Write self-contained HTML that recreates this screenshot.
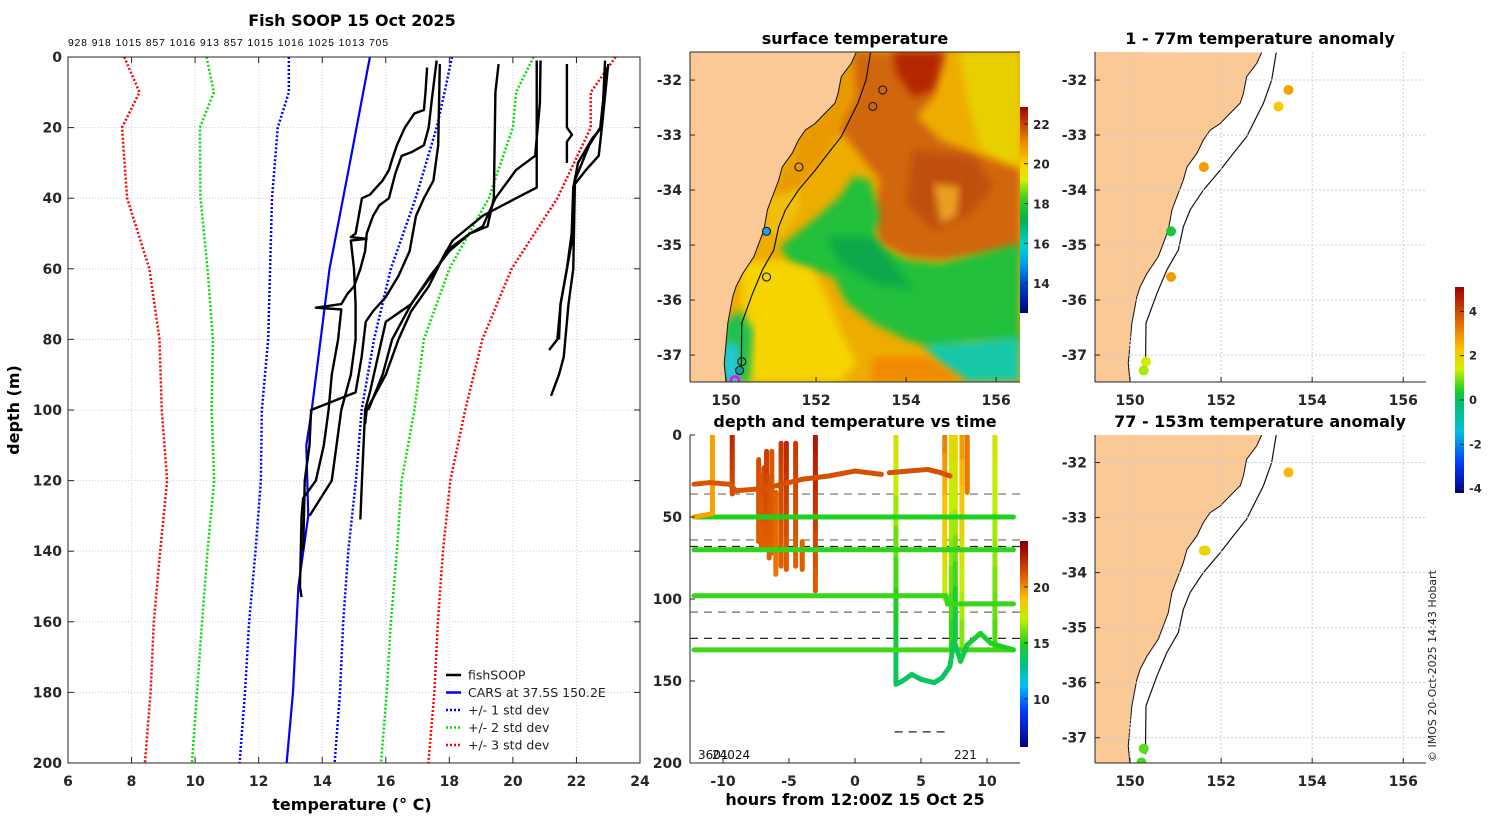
<!DOCTYPE html>
<html><head><meta charset="utf-8">
<style>
html,body{margin:0;padding:0;background:#fff;}
svg{display:block;font-family:"DejaVu Sans","Liberation Sans",sans-serif;}
.tk{font-size:14px;font-weight:bold;fill:#262626;}
.ttl{font-size:16px;font-weight:bold;fill:#000;}
</style></head>
<body>
<svg id="fig" width="1500" height="820" viewBox="0 0 1500 820" xmlns="http://www.w3.org/2000/svg">
<defs>
<linearGradient id="sstbar" x1="0" y1="1" x2="0" y2="0">
<stop offset="0" stop-color="#00007f"/><stop offset="0.14" stop-color="#0040d0"/><stop offset="0.24" stop-color="#00a0f0"/><stop offset="0.33" stop-color="#00d0d0"/><stop offset="0.45" stop-color="#00b050"/><stop offset="0.55" stop-color="#30d020"/><stop offset="0.65" stop-color="#d8f000"/><stop offset="0.72" stop-color="#ffd000"/><stop offset="0.82" stop-color="#f09000"/><stop offset="0.92" stop-color="#c84000"/><stop offset="1" stop-color="#a00000"/>
</linearGradient>
<linearGradient id="tbar" x1="0" y1="1" x2="0" y2="0">
<stop offset="0" stop-color="#00007f"/><stop offset="0.18" stop-color="#0040ff"/><stop offset="0.3" stop-color="#00c0ff"/><stop offset="0.4" stop-color="#00c080"/><stop offset="0.5" stop-color="#20d020"/><stop offset="0.62" stop-color="#c0f000"/><stop offset="0.72" stop-color="#ffc000"/><stop offset="0.83" stop-color="#e06000"/><stop offset="0.94" stop-color="#b01000"/><stop offset="1" stop-color="#800000"/>
</linearGradient>
<linearGradient id="abar" x1="0" y1="1" x2="0" y2="0">
<stop offset="0" stop-color="#00007f"/><stop offset="0.15" stop-color="#0040ff"/><stop offset="0.3" stop-color="#00c0e0"/><stop offset="0.45" stop-color="#00c060"/><stop offset="0.5" stop-color="#20d020"/><stop offset="0.6" stop-color="#d0f000"/><stop offset="0.7" stop-color="#ffc000"/><stop offset="0.82" stop-color="#e07000"/><stop offset="1" stop-color="#a00000"/>
</linearGradient>
<clipPath id="clipMap"><rect x="690" y="52" width="330" height="330"/></clipPath>
<clipPath id="clipA1"><rect x="1095" y="52" width="331" height="330"/></clipPath>
<clipPath id="clipA2"><rect x="1095" y="435" width="331" height="328"/></clipPath>
<clipPath id="clipT"><rect x="690" y="435" width="330" height="328"/></clipPath>
<filter id="soft"><feGaussianBlur stdDeviation="4"/></filter>
</defs>
<g id="root"></g>
</svg>
<script>
// ---------- Profile chart data ----------
const tickT = [6,8,10,12,14,16,18,20,22,24];
const tickD = [0,20,40,60,80,100,120,140,160,180,200];
const carsD = [0,30,60,100,110,130,150,180,200];
const carsT = [15.5,14.87,14.23,13.67,13.5,13.56,13.25,13.08,12.88];
const stdD = [0,10,20,40,60,80,100,120,140,160,180,200];
const p1T = [18.08,17.85,17.6,16.94,16.16,15.63,15.24,15.06,14.82,14.66,14.56,14.39];
const m1T = [12.95,12.95,12.6,12.42,12.36,12.3,12.1,12.07,11.9,11.7,11.57,11.4];
const p2T = [20.65,20.1,20.0,19.24,18.0,17.2,16.9,16.5,16.35,16.16,16.03,15.85];
const m2T = [10.36,10.59,10.15,10.17,10.39,10.56,10.52,10.6,10.39,10.22,10.06,9.9];
const p3T = [23.23,22.45,22.45,21.4,19.96,19.04,18.5,18.03,17.8,17.64,17.53,17.34];
const m3T = [7.77,8.25,7.7,7.86,8.56,8.88,8.95,9.12,8.9,8.7,8.6,8.42];
const fishProfiles = [
 [[17.3,3],[17.25,10],[17.2,15],[16.9,16],[16.75,18],[16.6,20],[16.45,23],[16.35,25],[16.2,29],[16.1,32],[15.9,35],[15.7,37],[15.5,39],[15.25,40],[15.15,45],[15.05,50],[14.9,51],[15.4,51.5],[14.9,52],[14.95,56],[15.0,60],[15.05,70],[15.05,80],[14.9,90],[14.6,100],[14.45,110],[14.3,120],[13.95,125],[13.6,130]],
 [[17.6,1],[17.45,12],[17.35,20],[17.2,25],[16.8,27],[16.5,28],[16.3,33],[16.1,40],[15.8,42],[15.6,45],[15.4,50],[15.35,55],[15.2,60],[15.0,65],[14.8,67],[14.6,70],[13.8,71],[14.6,71.5],[14.5,80],[14.3,90],[14.2,100],[14.05,110],[13.8,120],[13.4,125],[13.35,130],[13.3,150],[13.35,153]],
 [[17.7,2],[17.65,25],[17.5,35],[17.2,40],[16.95,45],[16.75,55],[16.4,62],[16.0,68],[15.6,72],[15.37,75],[15.24,85],[15.05,95],[13.65,100],[13.6,110],[13.45,120],[13.4,140]],
 [[19.55,2],[19.45,10],[19.4,40],[19.2,48],[18.65,50],[18.0,55],[17.4,62],[16.8,70],[16.0,75],[15.75,85],[15.5,95],[15.35,100],[15.3,110],[15.25,120],[15.2,131]],
 [[20.87,1],[20.85,13],[20.7,28],[20.1,32],[19.45,40],[19.05,48],[18.65,50],[17.9,55],[17.35,65],[16.8,72],[16.4,80],[16.0,90],[15.4,100],[15.35,104]],
 [[20.75,1],[20.75,37],[20.1,40],[19.05,45],[18.1,52],[17.6,60],[16.8,70],[16.2,80],[15.9,90],[15.45,100]],
 [[22.9,1],[22.8,20],[22.5,23],[22.05,30],[21.9,37],[21.85,50],[21.7,60],[21.5,70],[21.4,80],[21.14,83]],
 [[23.0,2],[22.8,20],[22.7,28],[22.3,32],[21.95,36],[21.9,60],[21.75,70],[21.6,85],[21.45,90],[21.2,96]],
 [[21.7,2],[21.7,20],[21.86,22],[21.7,24],[21.7,30]],
 [[22.95,3],[22.75,20],[22.4,25],[21.95,35],[21.9,50],[21.5,70],[21.45,80]]
];
const topNums = "928 918 1015 857 1016 913 857 1015 1016 1025 1013 705";

// ---------- Time chart data ----------
const tTicksX = [-10,-5,0,5,10];
const tTicksY = [0,50,100,150,200];
const hLines = [
 [[-12.2,50,15],[12,50,15]],
 [[-12.2,70,15.2],[12,70,15.2]],
 [[-12.2,98,15.3],[6.9,98,15.3],[7,103,15.3],[12,103,15.3]],
 [[-12.2,131,15.4],[12,131,15.4]],
 [[-12.2,30,21.3],[-11,29,21.3],[-9.5,30,21.3],[-9,34,21.3],[-7.5,33,21.3],[-6,31,21.4],[-5,29,21.4],[-4,27,21.4],[-2,25,21.4],[0,22,21.4],[2,24,21.4]],
 [[2.6,23,21.4],[4,22,21.4],[5.5,21,21.4],[6.5,23,21.4],[7.2,25,21.4]],
 [[-10.8,48,19.6],[-12.2,50,19.6]],
 [[3.1,152,13.6],[3.6,150,13.6],[4.3,146,13.6],[5,149,13.6],[6,151,13.6],[6.6,148,13.6],[7.2,141,13.8],[7.5,125,14],[8,138,14],[8.5,128,14.5],[9.5,121,14.6],[10.3,127,15],[10.7,128,15],[12,131,15]]
];
const vProfH = [-10.8,-9.3,-7.3,-7.1,-6.9,-6.7,-6.5,-6.3,-6,-5.6,-5.2,-4.5,-4,-3,3.1,6.8,7.3,7.6,8.1,8.5,10.6];
const vProfTop = [0,0,15,25,20,10,25,10,35,5,5,5,65,0,0,0,0,0,0,0,0];
const vProfBot = [48,36,65,70,68,70,75,72,85,80,82,80,82,95,152,100,130,125,130,35,130];
const vProfTtop = [19.6,22.5,21.5,21.3,21.5,22,21.5,21.3,21,22,22.5,22,21,23,17.8,20.5,18,18.5,20,20.5,17.6];
const vProfTbot = [19.6,21.5,21,21,21,21,21,21,20.5,21,21,21,21,21,13.6,17,15,14,16,20.5,15.5];
const dashDepths = [36,64,68,108,124];
const dashColors = ["#7a6a5a","#7a6a5a","#222","#7a6a5a","#222"];

// ---------- Map data ----------
const lonTicks = [150,152,154,156];
const latTicks = [-32,-33,-34,-35,-36,-37];
const coastLon = [152.89,152.78,152.56,152.49,152.42,152.12,151.98,151.76,151.61,151.47,151.25,151.17,151.03,150.92,150.84,150.73,150.62,150.37,150.22,150.15,150.04,150.0,149.96,150.0];
const coastLat = [-31.5,-31.7,-31.94,-32.24,-32.42,-32.67,-32.79,-32.91,-33.09,-33.33,-33.58,-33.82,-34.12,-34.36,-34.73,-34.97,-35.21,-35.52,-35.76,-35.94,-36.42,-36.79,-37.15,-37.5];
const isoLon = [153.21,153.11,152.93,152.56,152.27,151.98,151.61,151.32,151.17,151.06,150.81,150.59,150.35,150.34,150.34];
const isoLat = [-31.5,-32.0,-32.42,-33.03,-33.33,-33.64,-34.0,-34.36,-34.67,-35.09,-35.45,-35.88,-36.42,-37.15,-37.3];
const stnLon = [153.48,153.26,151.62,150.9,150.9,150.35,150.3,150.2];
const stnLat = [-32.18,-32.48,-33.58,-34.75,-35.58,-37.12,-37.28,-37.46];
const anomTop = [2.6,2.0,2.7,0.2,2.7,1.4,1.1,null];
const anomBotLon = [153.48,151.62,151.66,150.3,150.25];
const anomBotLat = [-32.18,-33.6,-33.6,-37.2,-37.45];
const anomBot = [2.3,1.8,1.8,0.7,0.6];
const cbSST = [14,16,18,20,22];
const cbT = [10,15,20];
const cbA = [-4,-2,0,2,4];

// ---------- helpers ----------
const NS="http://www.w3.org/2000/svg";
const root=document.getElementById('root');
function mk(tag,attrs,parent){const e=document.createElementNS(NS,tag);for(const k in attrs)e.setAttribute(k,attrs[k]);(parent||root).appendChild(e);return e;}
function txt(x,y,s,cls,anchor,parent){const t=mk('text',{x:x,y:y,class:cls||'tk','text-anchor':anchor||'middle'},parent);t.textContent=s;return t;}
function hex(c){return [parseInt(c.slice(1,3),16),parseInt(c.slice(3,5),16),parseInt(c.slice(5,7),16)];}
function cmap(stops,v){if(v<=stops[0][0])return stops[0][1];for(let i=1;i<stops.length;i++){if(v<=stops[i][0]){const f=(v-stops[i-1][0])/(stops[i][0]-stops[i-1][0]);const a=hex(stops[i-1][1]),b=hex(stops[i][1]);return 'rgb('+a.map((q,j)=>Math.round(q+(b[j]-q)*f)).join(',')+')';}}return stops[stops.length-1][1];}
const tStops=[[6,'#00007f'],[9,'#0040ff'],[11,'#00c0ff'],[13,'#00c080'],[15,'#20d020'],[17,'#c0f000'],[19,'#ffc000'],[21,'#e06000'],[23,'#b01000'],[24,'#800000']];
const aStops=[[-4.2,'#00007f'],[-2.8,'#0040ff'],[-1.4,'#00c0e0'],[-0.1,'#00c060'],[0.4,'#20d020'],[1.3,'#d0f000'],[2.2,'#ffc000'],[3.3,'#e07000'],[5.1,'#a00000']];

// ================= LEFT PROFILE CHART =================
(function(){
 const X0=68,X1=640,Y0=57,Y1=763;
 const xs=t=>X0+(t-6)/18*(X1-X0);
 const ys=d=>Y0+d/200*(Y1-Y0);
 const g=mk('g',{});
 
 
 tickT.forEach(t=>{const l=mk('line',{x1:xs(t),x2:xs(t),y1:Y0,y2:Y1,stroke:'#c8cce0','stroke-width':1,'stroke-dasharray':'1,2'},g);});
 tickD.forEach(d=>{const l=mk('line',{x1:X0,x2:X1,y1:ys(d),y2:ys(d),stroke:'#c8cce0','stroke-width':1,'stroke-dasharray':'1,2'},g);});
 function poly(ts,ds,color,dash,w,name){const p=mk('polyline',{points:ts.map((t,i)=>xs(t)+','+ys(ds[i])).join(' '),fill:'none',stroke:color,'stroke-width':w,'stroke-dasharray':dash||'none','stroke-linejoin':'round'},g);return p;}
 poly(m3T,stdD,'#ff0000','2,2',2.5,'minus-3-std-line');
 poly(m2T,stdD,'#00e000','2,2',2.5,'minus-2-std-line');
 poly(m1T,stdD,'#0000ff','2,2',2.5,'minus-1-std-line');
 poly(p1T,stdD,'#0000ff','2,2',2.5,'plus-1-std-line');
 poly(p2T,stdD,'#00e000','2,2',2.5,'plus-2-std-line');
 poly(p3T,stdD,'#ff0000','2,2',2.5,'plus-3-std-line');
 poly(carsT,carsD,'#0000ff',null,2.2,'cars-climatology-line');
 fishProfiles.forEach(pr=>{poly(pr.map(q=>q[0]),pr.map(q=>q[1]),'#000',null,2.4,'fishsoop-profile');});
 const fr=mk('rect',{x:X0,y:Y0,width:X1-X0,height:Y1-Y0,fill:'none',stroke:'#262626','stroke-width':1},g);
 
 tickT.forEach(t=>{mk('line',{x1:xs(t),x2:xs(t),y1:Y1,y2:Y1-6,stroke:'#262626'},g);mk('line',{x1:xs(t),x2:xs(t),y1:Y0,y2:Y0+6,stroke:'#262626'},g);const l=txt(xs(t),Y1+23,String(t),'tk','middle',g);});
 tickD.forEach(d=>{mk('line',{x1:X0,x2:X0+6,y1:ys(d),y2:ys(d),stroke:'#262626'},g);mk('line',{x1:X1,x2:X1-6,y1:ys(d),y2:ys(d),stroke:'#262626'},g);const l=txt(X0-6,ys(d)+5,String(d),'tk','end',g);});
 const tt=txt(352,26,'Fish SOOP 15 Oct 2025','ttl','middle',g);
 const tn=mk('text',{x:68,y:46,'font-size':'10.2px',fill:'#000','font-family':'Liberation Sans, sans-serif','textLength':320},g);tn.textContent=topNums;
 const xl=txt(352,810,'temperature (\u00B0 C)','ttl','middle',g);
 const yl=mk('text',{x:0,y:0,class:'ttl','text-anchor':'middle',transform:'translate(19,410) rotate(-90)'},g);yl.textContent='depth (m)';
 const leg=mk('g',{},g);
 const entries=[['fishSOOP','#000',null],['CARS at 37.5S 150.2E','#0000ff',null],['+/- 1 std dev','#0000ff','2,2'],['+/- 2 std dev','#00e000','2,2'],['+/- 3 std dev','#ff0000','2,2']];
 entries.forEach((e,i)=>{const y=675+i*17.5;const ln=mk('line',{x1:446,x2:461,y1:y,y2:y,stroke:e[1],'stroke-width':2.5,'stroke-dasharray':e[2]||'none'},leg);const t=mk('text',{x:468,y:y+4.5,'font-size':'12.5px',fill:'#222','font-family':'DejaVu Sans, sans-serif'},leg);t.textContent=e[0];});
})();

// ================= MAP helpers =================
function mapAxes(X0,X1,Y0,Y1,lonL,lonR,latT,latB){
 return {x:lon=>X0+(lon-lonL)/(lonR-lonL)*(X1-X0), y:lat=>Y0+(latT-lat)/(latT-latB)*(Y1-Y0), X0,X1,Y0,Y1};
}
function drawMapFrame(a,g,grid){
 if(grid){lonTicks.forEach(l=>{mk('line',{x1:a.x(l),x2:a.x(l),y1:a.Y0,y2:a.Y1,stroke:'#c8cce8','stroke-dasharray':'2,2'},g);});
  latTicks.forEach(l=>{mk('line',{x1:a.X0,x2:a.X1,y1:a.y(l),y2:a.y(l),stroke:'#c8cce8','stroke-dasharray':'2,2'},g);});}
 mk('line',{x1:a.X0,x2:a.X1,y1:a.Y1,y2:a.Y1,stroke:'#262626'},g);
 mk('line',{x1:a.X0,x2:a.X0,y1:a.Y0,y2:a.Y1,stroke:'#262626'},g);
 lonTicks.forEach(l=>{mk('line',{x1:a.x(l),x2:a.x(l),y1:a.Y1,y2:a.Y1-5,stroke:'#262626'},g);const t=txt(a.x(l),a.Y1+23,String(l),'tk','middle',g);});
 latTicks.forEach(l=>{mk('line',{x1:a.X0,x2:a.X0+5,y1:a.y(l),y2:a.y(l),stroke:'#262626'},g);const t=txt(a.X0-8,a.y(l)+5,String(l),'tk','end',g);});
}
function landPath(a){let s='M'+a.X0+','+a.Y0+' ';coastLon.forEach((l,i)=>{s+='L'+a.x(l)+','+a.y(coastLat[i])+' ';});s+='L'+a.X0+','+a.Y1+' Z';return s;}
function coastLine(a){return coastLon.map((l,i)=>a.x(l)+','+a.y(coastLat[i])).join(' ');}
function isoLine(a){return isoLon.map((l,i)=>a.x(l)+','+a.y(isoLat[i])).join(' ');}

// ================= SST MAP =================
(function(){
 const a=mapAxes(690,1020,52,382,149.2,156.53,-31.49,-37.49);
 const g=mk('g',{});
 const f=mk('g',{'clip-path':'url(#clipMap)'},g);
 mk('rect',{x:690,y:52,width:330,height:330,fill:'#eeac00'},f);
 const P=(pts,col,blur)=>{const p=mk('polygon',{points:pts.map(q=>(640+q[0]/3)+','+(30+q[1]/3)).join(' '),fill:col},f);if(blur)p.setAttribute('filter','url(#soft)');return p;};
 P([[960,66],[1140,66],[1140,420],[1020,360],[980,200]],'#e8d000',true);
 P([[560,66],[700,66],[640,250],[520,420],[430,520],[380,520],[460,380]],'#e89a00',true);
 P([[640,66],[920,66],[880,200],[830,260],[900,330],[1000,370],[1140,420],[1140,660],[900,690],[800,680],[720,640],[700,560],[720,450],[640,350],[600,300],[650,200]],'#d0660a',true);
 P([[760,66],[910,66],[880,180],[820,200],[770,130]],'#b42800',true);
 P([[820,360],[1000,380],[1060,470],[980,560],[880,600],[800,520]],'#c05010',true);
 P([[880,460],[960,470],[950,560],[900,580]],'#e8a020',true);
 P([[420,650],[520,570],[600,500],[640,440],[690,450],[720,560],[700,620],[720,650],[800,690],[900,700],[1140,640],[1140,940],[1000,935],[900,960],[800,930],[700,880],[620,820],[580,740],[450,700]],'#22c03a',true);
 P([[560,620],[700,620],[760,700],[820,780],[700,760],[600,700]],'#10a848',true);
 P([[850,945],[1140,920],[1140,1056],[980,1056],[900,1000]],'#18c8a8',true);
 P([[700,980],[860,980],[980,1056],[690,1056]],'#f08a00',true);
 P([[300,700],[420,690],[520,720],[560,800],[600,900],[650,1000],[600,1056],[320,1056]],'#f5d400',true);
 P([[250,880],[300,840],[340,900],[330,1056],[250,1056]],'#20c050',true);
 P([[250,940],[295,940],[300,1056],[250,1056]],'#20c8d8',true);
 P([[380,500],[480,480],[480,540],[420,620],[380,600]],'#f0c010',true);
 const land=mk('path',{d:landPath(a),fill:'#fbc996',stroke:'none'},f);
 mk('polyline',{points:coastLine(a),fill:'none',stroke:'#111','stroke-width':1},f);
 const iso=mk('polyline',{points:isoLine(a),fill:'none',stroke:'#111','stroke-width':1.2},f);
 const fills=['none','none','none','#1aa0ff','none','none','#10a0a0','none'];
 stnLon.forEach((l,i)=>{const c=mk('circle',{cx:a.x(l),cy:a.y(stnLat[i]),r:4,fill:fills[i],stroke:i==7?'#ff00ff':'#222','stroke-width':i==7?2.5:1.2},f);});
 drawMapFrame(a,g,false);
 mk('line',{x1:690,x2:1020,y1:52,y2:52,stroke:'#262626'},g);
 const t=txt(855,44,'surface temperature','ttl','middle',g);
 const cb=mk('rect',{x:1020,y:107,width:8,height:206,fill:'url(#sstbar)'},g);
 cbSST.forEach(v=>{const y=313-(v-12.5)/(22.85-12.5)*206;mk('line',{x1:1024,x2:1028,y1:y,y2:y,stroke:'#262626'},g);const l=mk('text',{x:1033,y:y+5,'font-size':'12px','font-weight':'bold',fill:'#262626'},g);l.textContent=String(v);});
})();

// ================= ANOMALY MAPS =================
function anomMap(Y0,Y1,latT,latB,title,clip,lons,lats,vals,name){
 const a=mapAxes(1095,1426,Y0,Y1,149.23,156.5,latT,latB);
 const g=mk('g',{});
 const f=mk('g',{'clip-path':'url('+clip+')'},g);
 drawMapFrame(a,g,true);
 const land=mk('path',{d:landPath(a),fill:'#fbc996'},f);
 mk('polyline',{points:coastLine(a),fill:'none',stroke:'#111','stroke-width':1},f);
 const iso=mk('polyline',{points:isoLine(a),fill:'none',stroke:'#111','stroke-width':1.2},f);
 lons.forEach((l,i)=>{if(vals[i]==null)return;const c=mk('circle',{cx:a.x(l),cy:a.y(lats[i]),r:5,fill:cmap(aStops,vals[i])},f);});
 mk('line',{x1:1095,x2:1095,y1:Y0,y2:Y1,stroke:'#262626'},g);
 const t=txt(1260,Y0-8,title,'ttl','middle',g);
}
anomMap(52,382,-31.49,-37.49,'1 - 77m temperature anomaly','#clipA1',stnLon,stnLat,anomTop,'anomaly-map-1-77m');
anomMap(435,763,-31.5,-37.46,'77 - 153m temperature anomaly','#clipA2',anomBotLon,anomBotLat,anomBot,'anomaly-map-77-153m');
(function(){
 const g=mk('g',{});
 mk('rect',{x:1455,y:287,width:9,height:206,fill:'url(#abar)'},g);
 cbA.forEach(v=>{const y=493-(v+4.2)/(5.1+4.2)*206;mk('line',{x1:1460,x2:1464,y1:y,y2:y,stroke:'#262626'},g);const l=mk('text',{x:1469,y:y+4,'font-size':'11.5px','font-weight':'bold',fill:'#262626'},g);l.textContent=String(v);});
 const c=mk('text',{x:0,y:0,'font-size':'11px',fill:'#222','text-anchor':'start',transform:'translate(1436,762) rotate(-90)'},g);c.textContent='\u00A9 IMOS 20-Oct-2025 14:43 Hobart';
})();

// ================= DEPTH/TEMP vs TIME =================
(function(){
 const X0=690,X1=1020,Y0=435,Y1=763;
 const xs=h=>X0+(h+12.5)/25*(X1-X0);
 const ys=d=>Y0+d/200*(Y1-Y0);
 const g=mk('g',{});
 const f=mk('g',{'clip-path':'url(#clipT)'},g);
 dashDepths.forEach((d,i)=>{const l=mk('line',{x1:X0,x2:X1,y1:ys(d),y2:ys(d),stroke:dashColors[i],'stroke-width':1.2,'stroke-dasharray':'8,6'},f);});
 mk('line',{x1:xs(3),x2:xs(7),y1:ys(181),y2:ys(181),stroke:'#222','stroke-width':1.2,'stroke-dasharray':'8,6'},f);
 function seg(pts){for(let i=1;i<pts.length;i++){const p=pts[i-1],q=pts[i];const l=mk('line',{x1:xs(p[0]),y1:ys(p[1]),x2:xs(q[0]),y2:ys(q[1]),stroke:cmap(tStops,(p[2]+q[2])/2),'stroke-width':5,'stroke-linecap':'round'},f);}}
 vProfH.forEach((h,i)=>{const n=8;const pts=[];for(let k=0;k<=n;k++){const fr=k/n;pts.push([h,vProfTop[i]+(vProfBot[i]-vProfTop[i])*fr,vProfTtop[i]+(vProfTbot[i]-vProfTtop[i])*fr]);}seg(pts);});
 hLines.forEach(seg);
 mk('line',{x1:X0,x2:X1,y1:Y1,y2:Y1,stroke:'#262626'},g);
 mk('line',{x1:X0,x2:X0,y1:Y0,y2:Y1,stroke:'#262626'},g);
 tTicksX.forEach(h=>{mk('line',{x1:xs(h),x2:xs(h),y1:Y1,y2:Y1-5,stroke:'#262626'},g);const t=txt(xs(h),Y1+23,String(h),'tk','middle',g);});
 tTicksY.forEach(d=>{mk('line',{x1:X0,x2:X0+5,y1:ys(d),y2:ys(d),stroke:'#262626'},g);const t=txt(X0-8,ys(d)+5,String(d),'tk','end',g);});
 const lbl1=mk('text',{x:698,y:759,'font-size':'12px',fill:'#111'},g);lbl1.textContent='3601';
 const lbl2=mk('text',{x:712,y:759,'font-size':'12px',fill:'#111'},g);lbl2.textContent='24024';
 const lbl3=mk('text',{x:954,y:759,'font-size':'12px',fill:'#111'},g);lbl3.textContent='221';
 const t=txt(855,427,'depth and temperature vs time','ttl','middle',g);
 const xl=txt(855,805,'hours from 12:00Z 15 Oct 25','ttl','middle',g);
 const cb=mk('rect',{x:1020,y:541,width:8,height:206,fill:'url(#tbar)'},g);
 cbT.forEach(v=>{const y=747-(v-5.7)/(24.1-5.7)*206;mk('line',{x1:1024,x2:1028,y1:y,y2:y,stroke:'#262626'},g);const l=mk('text',{x:1033,y:y+5,'font-size':'12px','font-weight':'bold',fill:'#262626'},g);l.textContent=String(v);});
})();
</script>
</body></html>
